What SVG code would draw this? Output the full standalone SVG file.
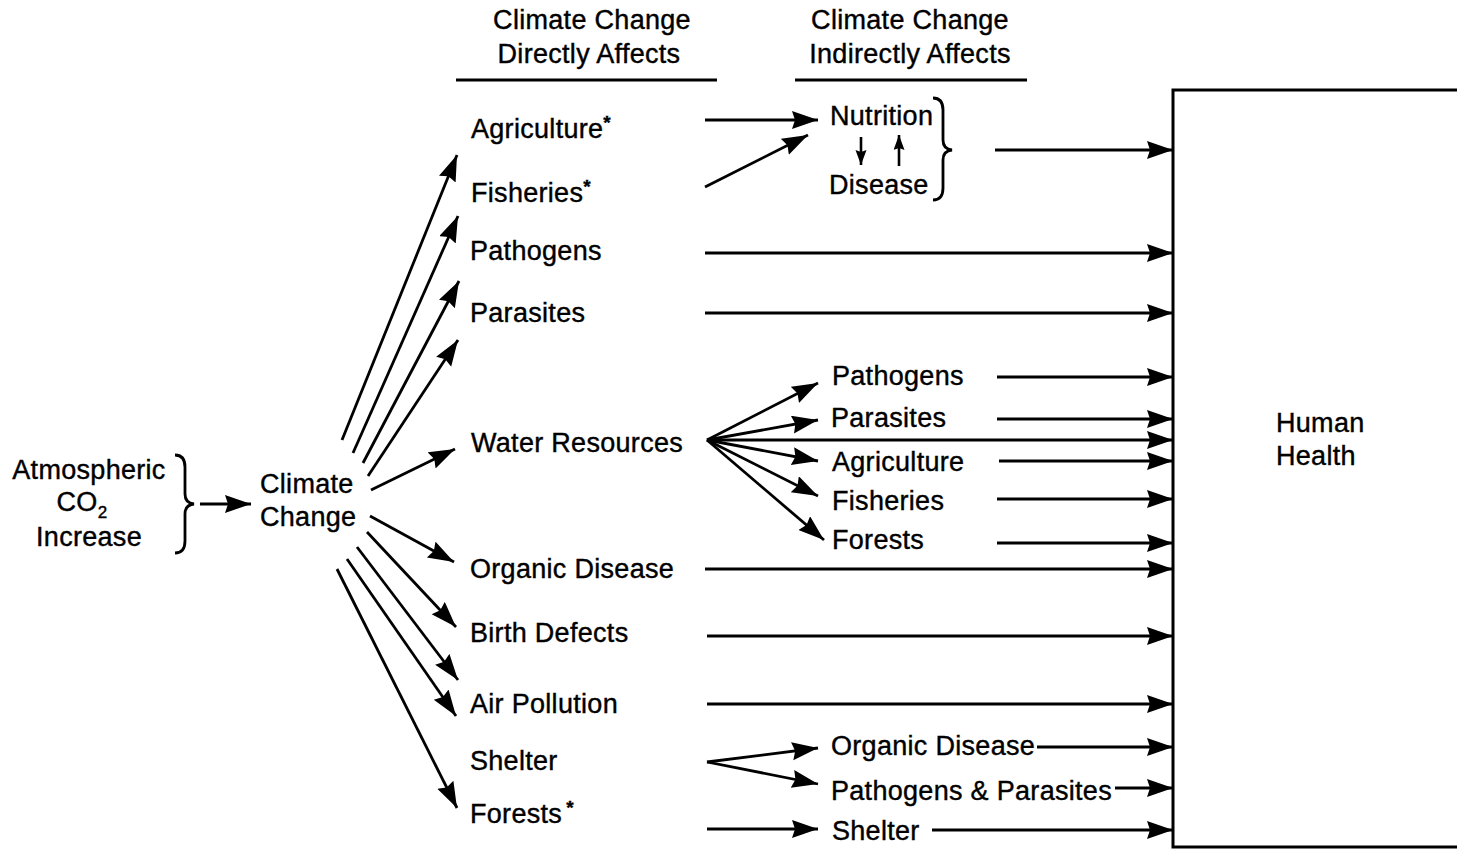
<svg xmlns="http://www.w3.org/2000/svg" width="1457" height="849" viewBox="0 0 1457 849">
<style>
text{font-family:"Liberation Sans",Arial,sans-serif;font-size:27px;fill:#000;stroke:#000;stroke-width:0.4;letter-spacing:0.3px}
.c{text-anchor:middle}
.ln{stroke:#000;stroke-width:2.8;fill:none}
.ar{stroke:#000;stroke-width:2.8;fill:none;marker-end:url(#ah)}
.sa{stroke:#000;stroke-width:2.6;fill:none;marker-end:url(#sh)}
.ast{font-size:19px;font-weight:bold}
</style>
<defs>
<marker id="ah" markerUnits="userSpaceOnUse" markerWidth="28" markerHeight="20" refX="26" refY="9" orient="auto">
<path d="M0,0 L26,9 L0,18 L3,9 Z" fill="#000"/>
</marker>
<marker id="sh" markerUnits="userSpaceOnUse" markerWidth="16" markerHeight="12" refX="15" refY="5.5" orient="auto">
<path d="M0,0 L15,5.5 L0,11 L2,5.5 Z" fill="#000"/>
</marker>
</defs>
<rect width="1457" height="849" fill="#fff"/>

<g id="headers">
<text class="c" x="592" y="29">Climate Change</text>
<text class="c" x="589" y="63">Directly Affects</text>
<line class="ln" x1="456" y1="80" x2="717" y2="80"/>
<text class="c" x="910" y="29">Climate Change</text>
<text class="c" x="910" y="63">Indirectly Affects</text>
<line class="ln" x1="795" y1="80" x2="1027" y2="80"/>
</g>

<g id="co2">
<text class="c" x="89" y="479">Atmospheric</text>
<text class="c" x="82" y="511">CO<tspan font-size="17" dy="7">2</tspan></text>
<text class="c" x="89" y="546">Increase</text>
<path class="ln" d="M175,455 Q185,455 185,467 L185,494 Q185,503 194,504 Q185,505 185,514 L185,541 Q185,553 175,553"/>
</g>

<g id="climate">
<text x="260" y="493">Climate</text>
<text x="260" y="526">Change</text>
</g>

<g id="direct">
<text x="471" y="138">Agriculture<tspan class="ast" dy="-9">*</tspan></text>
<text x="471" y="202">Fisheries<tspan class="ast" dy="-9">*</tspan></text>
<text x="470" y="260">Pathogens</text>
<text x="470" y="322">Parasites</text>
<text x="471" y="452">Water Resources</text>
<text x="470" y="578">Organic Disease</text>
<text x="470" y="642">Birth Defects</text>
<text x="470" y="713">Air Pollution</text>
<text x="470" y="770">Shelter</text>
<text x="470" y="823">Forests<tspan class="ast" dx="4" dy="-9">*</tspan></text>
</g>

<g id="indirect">
<text x="830" y="125">Nutrition</text>
<text x="829" y="194">Disease</text>
<path class="ln" d="M933,98 Q943,98 943,110 L943,140 Q943,149 952,150 Q943,151 943,160 L943,188 Q943,200 933,200"/>
<text x="832" y="385">Pathogens</text>
<text x="831" y="427">Parasites</text>
<text x="832" y="471">Agriculture</text>
<text x="832" y="510">Fisheries</text>
<text x="832" y="549">Forests</text>
<text x="831" y="755">Organic Disease</text>
<text x="831" y="800">Pathogens &amp; Parasites</text>
<text x="832" y="840">Shelter</text>
</g>

<g id="health">
<rect x="1173" y="90" width="300" height="757" fill="none" stroke="#000" stroke-width="3"/>
<text x="1276" y="432">Human</text>
<text x="1276" y="465">Health</text>
</g>

<g id="connectors">
<line class="ar" x1="200" y1="504" x2="251" y2="504"/>
<line class="ar" x1="342" y1="440" x2="457" y2="155"/>
<line class="ar" x1="353" y1="453" x2="458" y2="216"/>
<line class="ar" x1="363" y1="463" x2="459" y2="281"/>
<line class="ar" x1="368" y1="476" x2="458" y2="340"/>
<line class="ar" x1="371" y1="490" x2="455" y2="449"/>
<line class="ar" x1="370" y1="516" x2="454" y2="562"/>
<line class="ar" x1="367" y1="532" x2="456" y2="627"/>
<line class="ar" x1="357" y1="547" x2="458" y2="680"/>
<line class="ar" x1="347" y1="559" x2="456" y2="716"/>
<line class="ar" x1="337" y1="569" x2="457" y2="808"/>
<line class="ar" x1="705" y1="120" x2="818" y2="120"/>
<line class="ar" x1="705" y1="187" x2="808" y2="135"/>
<line class="sa" x1="861" y1="137" x2="861" y2="165"/>
<line class="sa" x1="899" y1="166" x2="899" y2="135"/>
<line class="ar" x1="707" y1="440" x2="818" y2="383"/>
<line class="ar" x1="707" y1="440" x2="818" y2="420"/>
<line class="ar" x1="707" y1="440" x2="818" y2="461"/>
<line class="ar" x1="707" y1="440" x2="818" y2="496"/>
<line class="ar" x1="707" y1="440" x2="824" y2="540"/>
<line class="ar" x1="707" y1="762" x2="818" y2="748"/>
<line class="ar" x1="707" y1="762" x2="818" y2="784"/>
<line class="ar" x1="707" y1="829" x2="818" y2="829"/>
<line class="ar" x1="995" y1="150" x2="1173" y2="150"/>
<line class="ar" x1="705" y1="253" x2="1173" y2="253"/>
<line class="ar" x1="705" y1="313" x2="1173" y2="313"/>
<line class="ar" x1="997" y1="377" x2="1173" y2="377"/>
<line class="ar" x1="997" y1="419" x2="1173" y2="419"/>
<line class="ar" x1="707" y1="440" x2="1173" y2="440"/>
<line class="ar" x1="999" y1="461" x2="1173" y2="461"/>
<line class="ar" x1="997" y1="499" x2="1173" y2="499"/>
<line class="ar" x1="997" y1="543" x2="1173" y2="543"/>
<line class="ar" x1="705" y1="569" x2="1173" y2="569"/>
<line class="ar" x1="707" y1="636" x2="1173" y2="636"/>
<line class="ar" x1="707" y1="704" x2="1173" y2="704"/>
<line class="ar" x1="1037" y1="747" x2="1173" y2="747"/>
<line class="ar" x1="1115" y1="788" x2="1173" y2="788"/>
<line class="ar" x1="932" y1="830" x2="1173" y2="830"/>
</g>
</svg>
